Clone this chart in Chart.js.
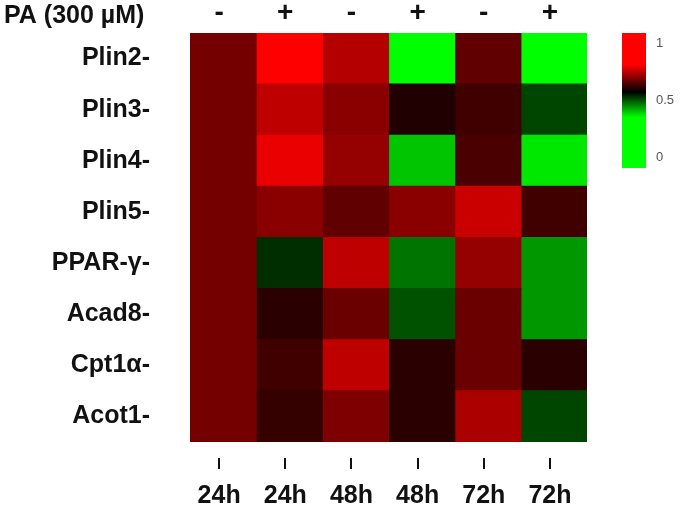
<!DOCTYPE html>
<html>
<head>
<meta charset="utf-8">
<script src="https://cdn.jsdelivr.net/npm/chart.js@4.4.1/dist/chart.umd.min.js"></script>
<style>
  html, body { margin: 0; padding: 0; background: #fff; }
  #wrap { position: relative; width: 685px; height: 510px; }
  #heat { position: absolute; left: 0; top: 0; }
  #bar { position: absolute; left: 600px; top: 0; }
</style>
</head>
<body>
<div id="wrap">
  <canvas id="heat" width="685" height="510"></canvas>
  <canvas id="bar" width="85" height="200"></canvas>
</div>
<script>
/* Heatmap of lipid genes vs PA treatment / time, green-black-red scale. */

const genes = ["Plin2-", "Plin3-", "Plin4-", "Plin5-", "PPAR-γ-", "Acad8-", "Cpt1α-", "Acot1-"];
const timeLabels = ["24h", "24h", "48h", "48h", "72h", "72h"];
const paLabels = ["-", "+", "-", "+", "-", "+"];
const legendTicks = [0, 0.5, 1];

// one array per column (same order as genes)
const col24Ctrl = [0.68, 0.68, 0.68, 0.68, 0.68, 0.68, 0.68, 0.68];
const col24PA   = [0.85, 0.75, 0.79, 0.70, 0.53, 0.61, 0.63, 0.62];
const col48Ctrl = [0.74, 0.70, 0.71, 0.66, 0.75, 0.67, 0.75, 0.69];
const col48PA   = [0.25, 0.60, 0.40, 0.70, 0.47, 0.50, 0.61, 0.61];
const col72Ctrl = [0.66, 0.63, 0.64, 0.76, 0.71, 0.67, 0.67, 0.73];
const col72PA   = [0.25, 0.51, 0.37, 0.63, 0.44, 0.44, 0.61, 0.51];
const columns = [col24Ctrl, col24PA, col48Ctrl, col48PA, col72Ctrl, col72PA];

// colour scale stops
const GREEN_AT = 0.35, BLACK_AT = 0.57, RED_AT = 0.81;
const KEY_MIN = -0.096, KEY_MAX = 1.088;

function heatColor(v) {
  if (v >= RED_AT) return "rgb(255,0,0)";
  if (v >= BLACK_AT) {
    const r = Math.round(255 * (v - BLACK_AT) / (RED_AT - BLACK_AT));
    return `rgb(${r},0,0)`;
  }
  if (v > GREEN_AT) {
    const g = Math.round(255 * (BLACK_AT - v) / (BLACK_AT - GREEN_AT));
    return `rgb(0,${g},0)`;
  }
  return "rgb(0,255,0)";
}

const FONT = "'Liberation Sans', Arial, sans-serif";
const TICK_SHIFT = 0.06;

const datasets = columns.map((vals, c) => ({
  label: timeLabels[c] + " " + paLabels[c],
  data: vals.map(() => [c, c + 1]),
  backgroundColor: vals.map(heatColor),
  borderWidth: 0,
  inflateAmount: 0.6, // small overlap so cells show no seams
  grouped: false,
  barPercentage: 1,
  categoryPercentage: 1,
}));

function columnTicks(scale) {
  scale.ticks = columns.map((_, i) => ({ value: i + 0.5 - TICK_SHIFT }));
}

const extras = {
  id: "extras",
  afterDraw(chart) {
    const { ctx, scales } = chart;
    ctx.save();
    ctx.strokeStyle = "#111";
    ctx.lineWidth = 2;
    scales.x.ticks.forEach((t) => {
      const px = Math.round(scales.x.getPixelForValue(t.value));
      ctx.beginPath();
      ctx.moveTo(px, 458);
      ctx.lineTo(px, 469);
      ctx.stroke();
    });
    ctx.fillStyle = "#111";
    ctx.font = "bold 25px " + FONT;
    ctx.textBaseline = "middle";
    ctx.textAlign = "left";
    ctx.fillText("PA (300 µM)", 4, 16);
    ctx.restore();
  },
};

new Chart(document.getElementById("heat").getContext("2d"), {
  type: "bar",
  data: { labels: genes, datasets },
  plugins: [extras],
  options: {
    indexAxis: "y",
    animation: false,
    responsive: false,
    layout: { padding: { right: 98 } },
    plugins: { legend: { display: false }, tooltip: { enabled: false } },
    scales: {
      y: {
        type: "category",
        grid: { drawOnChartArea: false, drawTicks: true, tickLength: 40, tickColor: "rgba(0,0,0,0)" },
        border: { display: false },
        ticks: { color: "#111", padding: 0, font: { family: FONT, size: 25, weight: "bold" } },
        afterFit(scale) { scale.width = 190; },
      },
      x: {
        type: "linear", position: "bottom", min: 0, max: 6,
        grid: { display: false, drawTicks: false },
        border: { display: false },
        afterBuildTicks: columnTicks,
        ticks: {
          color: "#111", padding: 39, autoSkip: false, maxRotation: 0,
          font: { family: FONT, size: 25, weight: "bold" },
          callback: (v, i) => timeLabels[i],
        },
        afterFit(scale) { scale.height = 68; },
      },
      x2: {
        type: "linear", position: "top", min: 0, max: 6,
        grid: { display: false, drawTicks: false },
        border: { display: false },
        afterBuildTicks: columnTicks,
        ticks: {
          color: "#111", padding: 3, autoSkip: false, maxRotation: 0,
          font: { family: FONT, size: 28, weight: "bold" },
          callback: (v, i) => paLabels[i],
        },
        afterFit(scale) { scale.height = 33; },
      },
    },
  },
});

// colour key
new Chart(document.getElementById("bar").getContext("2d"), {
  type: "bar",
  data: {
    labels: ["key"],
    datasets: [{
      data: [[KEY_MIN, KEY_MAX]],
      backgroundColor(ctx) {
        const { chart } = ctx;
        const y = chart.scales.y;
        if (!chart.chartArea || !y) return "#000";
        const g = chart.ctx.createLinearGradient(0, y.getPixelForValue(0), 0, y.getPixelForValue(1));
        g.addColorStop(GREEN_AT, heatColor(GREEN_AT));
        g.addColorStop(BLACK_AT, heatColor(BLACK_AT));
        g.addColorStop(RED_AT, heatColor(RED_AT));
        return g;
      },
      borderWidth: 0,
      barPercentage: 1,
      categoryPercentage: 1,
    }],
  },
  options: {
    animation: false,
    responsive: false,
    layout: { padding: { left: 22, top: 33, bottom: 32 } },
    plugins: { legend: { display: false }, tooltip: { enabled: false } },
    scales: {
      x: { display: false },
      y: {
        position: "right", min: KEY_MIN, max: KEY_MAX,
        grid: { display: false, drawTicks: false },
        border: { display: false },
        afterBuildTicks(scale) { scale.ticks = legendTicks.map((v) => ({ value: v })); },
        ticks: {
          color: "#555", padding: 10, font: { family: FONT, size: 13 },
          callback: (v) => String(v),
        },
        afterFit(scale) { scale.width = 39; },
      },
    },
  },
});
</script>
</body>
</html>
